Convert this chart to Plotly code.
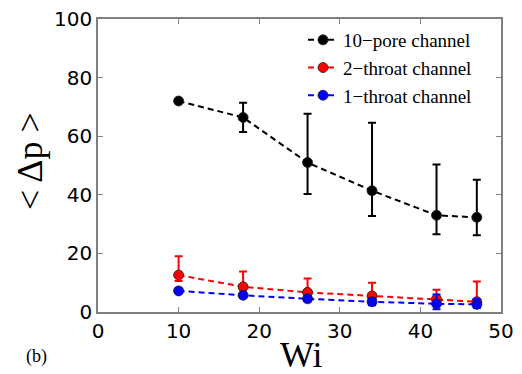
import plotly.graph_objects as go

wi = [10, 18, 26, 34, 42, 47]

pore10 = [72.0, 66.4, 51.0, 41.4, 33.0, 32.3]
pore10_up = [0.0, 5.0, 16.7, 23.2, 17.3, 12.8]
pore10_dn = [0.0, 5.0, 10.7, 8.6, 6.5, 6.1]

throat2 = [12.6, 8.6, 6.7, 5.5, 4.4, 3.5]
throat2_up = [6.4, 5.2, 4.7, 4.5, 3.2, 6.9]
throat2_dn = [2.0, 1.2, 1.0, 1.0, 1.0, 1.0]

throat1 = [7.2, 5.7, 4.5, 3.5, 2.8, 2.6]
throat1_up = [0.6, 0.8, 0.8, 1.2, 3.2, 1.8]
throat1_dn = [0.6, 0.8, 0.8, 1.2, 1.9, 1.2]

names = ["10\u2212pore channel", "2\u2212throat channel", "1\u2212throat channel"]
colors = ["black", "red", "blue"]
ys = [pore10, throat2, throat1]
ups = [pore10_up, throat2_up, throat1_up]
dns = [pore10_dn, throat2_dn, throat1_dn]

fig = go.Figure()
for n, c, y, u, d in zip(names, colors, ys, ups, dns):
    fig.add_trace(go.Scatter(
        x=wi, y=y, name=n, mode="lines+markers",
        line=dict(color=c, width=2, dash="6px,4px"),
        marker=dict(color=c, size=10, line=dict(color="#202020", width=0.8)),
        error_y=dict(type="data", symmetric=False, array=u, arrayminus=d,
                     color=c, thickness=2, width=4),
    ))

axis_common = dict(
    showline=True, mirror="ticks", linecolor="#808080", linewidth=1.5,
    ticks="inside", ticklen=5, tickcolor="#808080", tickwidth=1,
    showgrid=False, zeroline=False, automargin=False,
    tickfont=dict(family="DejaVu Sans", size=20, color="black"),
)

L, R, T, B = 98, 21, 19, 62
W, H = 522, 374
pw, ph = W - L - R, H - T - B

fig.update_layout(
    width=W, height=H,
    margin=dict(l=L, r=R, t=T, b=B),
    paper_bgcolor="white", plot_bgcolor="white",
    xaxis=dict(range=[0, 50], tickvals=[0, 10, 20, 30, 40, 50], **axis_common),
    yaxis=dict(range=[0, 100], tickvals=[0, 20, 40, 60, 80, 100], **axis_common),
    showlegend=True,
    legend=dict(x=(303 - L) / pw, y=(H - B - 21) / ph, xanchor="left", yanchor="top",
                bgcolor="rgba(0,0,0,0)", borderwidth=0,
                font=dict(family="Liberation Serif", size=19, color="black"),
                tracegroupgap=4, itemwidth=30),
    annotations=[
        dict(text="Wi", x=(301 - L) / pw, y=(T + ph - 355) / ph, xref="paper", yref="paper",
             xanchor="center", yanchor="middle", showarrow=False,
             font=dict(family="Liberation Serif", size=36, color="black")),
        dict(text="< \u0394p >", x=(30 - L) / pw, y=(T + ph - 161) / ph,
             xref="paper", yref="paper", xanchor="center", yanchor="middle",
             showarrow=False, textangle=-90,
             font=dict(family="Liberation Serif", size=36, color="black")),
        dict(text="(b)", x=(36 - L) / pw, y=(T + ph - 356) / ph, xref="paper", yref="paper",
             xanchor="center", yanchor="middle", showarrow=False,
             font=dict(family="Liberation Serif", size=18, color="black")),
    ],
)

fig.write_html("out.html", config={"displayModeBar": False},
               post_script="document.body.style.margin='0';document.body.style.overflow='hidden';")
